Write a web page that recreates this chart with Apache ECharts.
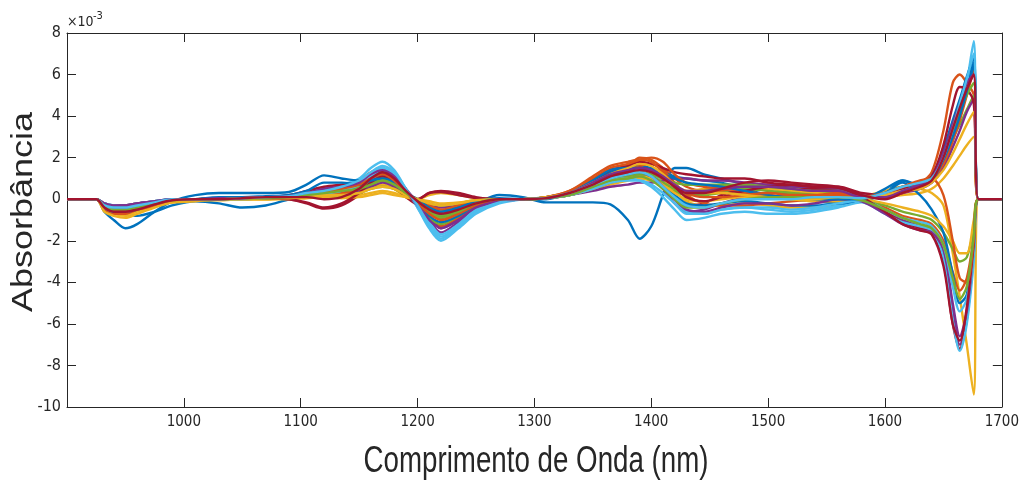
<!DOCTYPE html>
<html lang="pt">
<head>
  <meta charset="utf-8" />
  <title>Absorbância</title>
  <script src="https://cdn.jsdelivr.net/npm/echarts@6.0.0/dist/echarts.min.js"></script>
  <style>
    html, body { margin: 0; padding: 0; background: #fff; }
  </style>
</head>
<body>
  <div id="main" style="width: 1022px;height:482px;"></div>
  <script>
    // comprimentos de onda (nm) compartilhados por todos os espectros
    var wavelengths = [900, 925, 932, 940, 950, 960, 975, 990,
      1010, 1030, 1050, 1070, 1090,
      1105, 1120, 1135, 1150, 1160, 1170, 1180, 1190, 1200, 1210, 1220, 1235, 1250, 1270, 1290,
      1310, 1330, 1350, 1365, 1380, 1390, 1400, 1410, 1420, 1430, 1445, 1460, 1480, 1500, 1520, 1540, 1560, 1580,
      1600, 1615, 1630, 1640, 1650, 1658, 1664, 1670, 1676, 1680, 1700];

    // absorbância (x 10^-3)
    var spec01 = [0, 0, -0.3, -0.5, -0.7, -0.8, -0.6, -0.3,
      -0.1, -0.2, -0.4, -0.3, 0,
      0.2, 0.4, 0.5, 0.7, 0.9, 1.0, 0.7, 0.2, -0.2, -0.6, -0.8, -0.5, -0.2, 0.2, 0.1,
      -0.15, -0.15, -0.15, -0.25, -1.0, -1.9, -1.3, 0.2, 1.5, 1.5, 1.2, 1.0, 0.7, 0.4, 0.2, 0, -0.1, -0.1,
      0.3, 0.9, 0.6, 1.0, 2.0, 3.2, 4.2, 5.5, 6.6, 0, 0];
    var spec02 = [0, 0, -0.2, -0.4, -0.5, -0.4, -0.2, -0.1,
      0, 0.05, 0.05, 0.1, 0.1,
      0.2, 0.4, 0.6, 0.9, 1.3, 1.5, 1.1, 0.4, -0.2, -0.9, -1.3, -0.9, -0.4, -0.1, 0,
      0.05, 0.3, 0.9, 1.3, 1.6, 2.0, 1.9, 1.5, 1.0, 0.6, 0.4, 0.4, 0.3, 0.2, 0.1, 0.2, 0.4, 0.1,
      0.3, 0.5, 0.8, 1.3, 3.3, 5.6, 6.0, 5.6, 5.0, 0, 0];
    var spec03 = [0, 0, -0.4, -0.6, -0.7, -0.5, -0.3, -0.15,
      -0.1, 0, 0, 0, 0.05,
      0.1, 0.2, 0.3, 0.4, 0.6, 0.7, 0.5, 0.1, -0.2, -0.5, -0.7, -0.5, -0.2, -0.05, 0,
      0.05, 0.3, 0.6, 0.9, 1.2, 1.4, 1.3, 0.9, 0.4, -0.1, -0.3, -0.3, -0.2, -0.3, -0.4, -0.4, -0.2, 0.1,
      0.4, 0.6, 0.5, 0.3, -0.3, -2.6, -4.7, -7.0, -9.4, 0, 0];
    var spec04 = [0, 0, -0.3, -0.4, -0.4, -0.3, -0.2, -0.05,
      0, 0, 0.05, 0.1, 0.1,
      0.1, 0.2, 0.3, 0.5, 0.8, 1.0, 0.9, 0.4, -0.1, -0.8, -1.4, -1.0, -0.5, -0.1, 0,
      0.05, 0.2, 0.7, 1.0, 1.1, 1.2, 1.0, 0.5, -0.2, -0.6, -0.5, -0.2, 0.1, 0.3, 0.4, 0.5, 0.5, 0,
      -0.6, -1.0, -1.3, -1.5, -2.6, -5.5, -7.0, -5.6, -2.2, 0, 0];
    var spec05 = [0, 0, -0.2, -0.3, -0.3, -0.2, -0.1, 0,
      0, 0.05, 0.05, 0.1, 0.15,
      0.3, 0.5, 0.6, 0.7, 1.0, 1.2, 0.9, 0.3, -0.3, -0.9, -1.2, -0.8, -0.3, -0.05, 0,
      0.1, 0.3, 0.6, 0.9, 1.1, 1.2, 1.1, 0.8, 0.4, 0.2, 0.2, 0.3, 0.4, 0.5, 0.4, 0.3, 0.3, 0.1,
      0.2, 0.4, 0.6, 0.9, 1.8, 2.9, 3.6, 4.3, 5.0, 0, 0];
    var spec06 = [0, 0, -0.2, -0.3, -0.3, -0.2, -0.1, 0,
      0, 0, 0.05, 0.1, 0.2,
      0.3, 0.5, 0.7, 1.0, 1.5, 1.8, 1.4, 0.5, -0.4, -1.4, -2.0, -1.4, -0.7, -0.2, 0,
      0.05, 0.3, 0.8, 1.2, 1.4, 1.5, 1.3, 0.7, 0, -0.6, -0.7, -0.5, -0.4, -0.5, -0.6, -0.5, -0.3, 0,
      0.2, 0.4, 0.6, 0.8, 1.6, 2.8, 4.0, 5.6, 7.6, 0, 0];
    var spec07 = [0, 0, -0.3, -0.5, -0.5, -0.3, -0.15, -0.05,
      0, 0, 0.05, 0.05, 0,
      -0.2, -0.45, -0.3, 0.2, 0.7, 0.9, 0.6, 0.1, -0.3, -0.7, -0.9, -0.6, -0.2, 0, 0,
      0.05, 0.2, 0.5, 0.8, 1.0, 1.1, 1.0, 0.6, 0.1, -0.3, -0.2, 0.2, 0.5, 0.7, 0.6, 0.5, 0.5, 0.1,
      -0.6, -1.1, -1.4, -1.6, -3.0, -6.0, -7.2, -5.8, -2.6, 0, 0];
    var spec08 = [0, 0, -0.6, -1.0, -1.4, -1.2, -0.6, -0.1,
      0.2, 0.3, 0.3, 0.3, 0.35,
      0.7, 1.15, 1.0, 0.9, 1.1, 1.2, 0.9, 0.3, -0.1, -0.5, -0.7, -0.5, -0.2, 0, 0,
      0, 0.3, 0.8, 1.3, 1.6, 1.6, 1.5, 1.3, 1.1, 1.0, 0.9, 0.8, 0.5, 0.2, 0, -0.1, -0.2, -0.1,
      0.3, 0.6, 0.8, 1.1, 2.4, 3.8, 4.8, 5.9, 6.8, 0, 0];
    var spec09 = [0, 0, -0.4, -0.6, -0.6, -0.4, -0.2, -0.1,
      0, 0, 0, 0.05, 0.1,
      0.2, 0.3, 0.4, 0.6, 0.8, 0.9, 0.7, 0.2, -0.1, -0.4, -0.6, -0.4, -0.15, 0, 0,
      0.1, 0.3, 0.7, 1.1, 1.4, 1.6, 1.7, 1.4, 0.8, 0.2, -0.2, -0.3, -0.3, -0.2, -0.1, 0, 0.1, 0,
      -0.4, -0.8, -1.0, -1.2, -2.0, -3.5, -4.4, -3.8, -1.8, 0, 0];
    var spec10 = [0, 0, -0.5, -0.7, -0.8, -0.6, -0.35, -0.15,
      -0.05, -0.05, 0, 0, 0,
      0.05, 0.1, 0.1, 0.2, 0.3, 0.4, 0.3, 0.1, 0, 0.2, 0.3, 0.2, 0.05, 0, 0,
      0.05, 0.2, 0.5, 0.7, 0.9, 1.0, 0.9, 0.7, 0.5, 0.4, 0.5, 0.6, 0.6, 0.5, 0.4, 0.3, 0.2, 0.1,
      0.1, 0.2, 0.3, 0.5, 1.0, 1.6, 2.1, 2.6, 3.0, 0, 0];
    var spec11 = [0, 0, -0.2, -0.3, -0.3, -0.2, -0.1, 0,
      0, 0.05, 0.05, 0.1, 0.15,
      0.25, 0.35, 0.3, 0.4, 0.6, 0.8, 0.6, 0.2, -0.1, -0.3, -0.4, -0.3, -0.1, 0, 0,
      0.05, 0.2, 0.4, 0.6, 0.7, 0.8, 0.8, 0.9, 1.0, 1.0, 0.9, 0.9, 0.8, 0.7, 0.6, 0.6, 0.5, 0.2,
      0.1, 0.3, 0.5, 0.8, 1.5, 2.5, 3.3, 4.2, 4.8, 0, 0];
    var spec12 = [0, 0, -0.3, -0.4, -0.4, -0.3, -0.15, -0.05,
      0, 0, 0, 0.05, 0.1,
      0.15, 0.2, 0.2, 0.3, 0.5, 0.6, 0.5, 0.2, 0, -0.2, -0.3, -0.2, -0.05, 0, 0,
      0.05, 0.25, 0.6, 0.9, 1.1, 1.2, 1.1, 0.8, 0.5, 0.3, 0.4, 0.5, 0.5, 0.4, 0.3, 0.2, 0.1, -0.05,
      -0.3, -0.6, -0.8, -1.0, -1.6, -2.4, -3.0, -2.8, -1.4, 0, 0];
    var spec13 = [0, 0, -0.2, -0.3, -0.35, -0.25, -0.1, 0,
      0, 0, 0.05, 0.05, 0.1,
      0.2, 0.3, 0.5, 0.8, 1.2, 1.5, 1.2, 0.5, -0.4, -1.3, -1.9, -1.3, -0.6, -0.15, 0,
      0.05, 0.2, 0.6, 0.9, 1.0, 0.9, 0.6, 0.1, -0.5, -1.0, -0.9, -0.7, -0.6, -0.7, -0.7, -0.6, -0.4, -0.15,
      -0.7, -1.1, -1.3, -1.5, -2.8, -5.8, -7.3, -6.0, -3.0, 0, 0];
    var spec14 = [0, 0, -0.3, -0.4, -0.4, -0.3, -0.15, -0.05,
      0, 0.05, 0.05, 0.1, 0.2,
      0.4, 0.6, 0.7, 0.8, 1.1, 1.3, 1.0, 0.4, 0, 0.3, 0.4, 0.3, 0.1, 0, 0,
      0.05, 0.3, 0.9, 1.4, 1.6, 1.8, 1.7, 1.5, 1.3, 1.2, 1.1, 1.0, 1.0, 0.8, 0.7, 0.6, 0.6, 0.3,
      0.2, 0.5, 0.8, 1.1, 2.6, 4.5, 5.4, 5.3, 4.6, 0, 0];
    var spec15 = [0, 0, -0.3, -0.5, -0.5, -0.4, -0.2, -0.05,
      0, 0, 0.05, 0.05, 0.1,
      0.2, 0.3, 0.4, 0.6, 0.9, 1.1, 0.8, 0.3, -0.2, -0.8, -1.1, -0.8, -0.3, 0, 0,
      0.05, 0.2, 0.5, 0.8, 1.0, 1.1, 1.0, 0.7, 0.2, -0.2, -0.3, -0.2, -0.1, -0.2, -0.3, -0.3, -0.2, 0,
      0.3, 0.8, 0.2, -0.5, -1.6, -3.6, -5.0, -4.6, -2.0, 0, 0];
    var spec16 = [0, 0, -0.5, -0.7, -0.7, -0.5, -0.3, -0.1,
      0, 0, 0.05, 0.05, 0.1,
      0.2, 0.3, 0.3, 0.5, 0.8, 1.0, 0.8, 0.3, 0, -0.3, -0.5, -0.3, -0.1, 0, 0,
      0.1, 0.4, 1.0, 1.5, 1.7, 1.9, 2.0, 1.8, 1.2, 0.8, 0.6, 0.5, 0.4, 0.2, 0.1, 0.1, 0.2, 0.1,
      0.1, 0.3, 0.6, 0.9, 1.7, 2.8, 3.8, 5.0, 6.2, 0, 0];
    var spec17 = [0, 0, -0.4, -0.6, -0.6, -0.5, -0.3, -0.1,
      0, 0, 0, 0, 0.05,
      0.1, 0.1, 0.05, 0.1, 0.2, 0.3, 0.2, 0.1, 0, -0.1, -0.2, -0.15, -0.05, 0, 0,
      0.05, 0.2, 0.5, 0.8, 1.0, 1.1, 1.0, 0.7, 0.3, 0, -0.1, 0, 0.1, 0.1, 0, -0.1, -0.1, 0,
      -0.2, -0.4, -0.6, -0.8, -1.3, -2.0, -2.6, -2.6, -1.0, 0, 0];
    var spec18 = [0, 0, -0.2, -0.3, -0.3, -0.2, -0.1, 0,
      0, 0, 0.05, 0.1, 0.1,
      0.2, 0.3, 0.4, 0.7, 1.0, 1.3, 1.1, 0.5, -0.2, -1.0, -1.6, -1.1, -0.5, -0.1, 0,
      0.05, 0.3, 0.7, 1.0, 1.2, 1.3, 1.1, 0.6, 0, -0.5, -0.6, -0.4, -0.2, -0.2, -0.3, -0.2, 0, -0.1,
      -0.7, -1.2, -1.5, -1.6, -2.4, -5.0, -6.6, -5.4, -2.4, 0, 0];
    var spec19 = [0, 0, -0.3, -0.5, -0.5, -0.4, -0.2, -0.05,
      0, 0.05, 0.05, 0.05, 0.1,
      0.2, 0.3, 0.5, 0.6, 0.8, 1.0, 0.8, 0.3, -0.1, -0.6, -0.9, -0.6, -0.2, 0, 0,
      0.1, 0.3, 0.7, 1.0, 1.2, 1.3, 1.2, 1.0, 0.8, 0.7, 0.7, 0.7, 0.7, 0.6, 0.5, 0.4, 0.4, 0.15,
      0.2, 0.4, 0.7, 1.0, 2.0, 3.2, 4.2, 5.0, 5.6, 0, 0];
    var spec20 = [0, 0, -0.3, -0.4, -0.45, -0.35, -0.2, -0.05,
      0, 0, 0, 0.05, 0.1,
      0.15, 0.25, 0.4, 0.7, 1.1, 1.4, 1.1, 0.4, -0.3, -1.1, -1.7, -1.2, -0.5, -0.1, 0,
      0.05, 0.2, 0.5, 0.8, 0.9, 0.9, 0.7, 0.3, -0.2, -0.7, -0.7, -0.5, -0.4, -0.4, -0.5, -0.4, -0.2, -0.05,
      -0.5, -0.9, -1.1, -1.3, -2.2, -4.2, -5.4, -4.8, -2.6, 0, 0];
    var spec21 = [0, 0, -0.3, -0.5, -0.5, -0.4, -0.2, -0.05,
      0, 0, 0.05, 0.05, 0,
      -0.15, -0.4, -0.2, 0.3, 0.8, 1.1, 0.8, 0.3, 0, 0.3, 0.35, 0.2, 0.05, 0, 0,
      0.05, 0.3, 0.8, 1.2, 1.4, 1.5, 1.4, 1.1, 0.6, 0.1, -0.1, 0.1, 0.4, 0.6, 0.7, 0.6, 0.55, 0.1,
      -0.6, -1.2, -1.5, -1.7, -3.2, -6.0, -6.8, -5.2, -2.2, 0, 0];
    var spec22 = [0, 0, -0.4, -0.6, -0.6, -0.5, -0.25, -0.1,
      0, 0.1, 0.1, 0.15, 0.2,
      0.4, 0.8, 0.8, 0.7, 0.9, 1.0, 0.8, 0.3, 0, -0.4, -0.6, -0.4, -0.1, 0.05, 0,
      0.05, 0.3, 0.9, 1.4, 1.5, 1.5, 1.4, 1.2, 1.0, 0.8, 0.7, 0.6, 0.4, 0.2, 0.1, 0, 0, 0,
      0.5, 0.9, 0.7, 0.9, 1.9, 3.0, 4.0, 5.2, 6.4, 0, 0];
    var spec23 = [0, 0, -0.3, -0.5, -0.6, -0.5, -0.3, -0.1,
      0, 0, 0.05, 0.1, 0.1,
      0.2, 0.3, 0.5, 0.7, 1.0, 1.2, 0.9, 0.3, -0.2, -0.7, -1.0, -0.7, -0.3, -0.05, 0,
      0.1, 0.4, 1.1, 1.6, 1.8, 1.9, 1.8, 1.3, 0.7, 0.3, 0.1, 0.1, 0.2, 0.3, 0.2, 0.2, 0.3, 0.1,
      0.3, 0.6, 0.9, 1.0, 0.2, -2.0, -3.8, -4.0, -2.0, 0, 0];
    var spec24 = [0, 0, -0.6, -0.8, -0.9, -0.7, -0.4, -0.15,
      -0.05, 0, 0, 0.05, 0.05,
      0.1, 0.2, 0.2, 0.3, 0.5, 0.6, 0.5, 0.2, 0, -0.2, -0.3, -0.2, -0.05, 0, 0,
      0.1, 0.3, 0.8, 1.2, 1.5, 1.7, 1.6, 1.2, 0.7, 0.4, 0.3, 0.3, 0.2, 0.1, 0, 0, 0.1, 0.05,
      0.2, 0.4, 0.5, 0.8, 1.4, 2.2, 2.9, 3.6, 4.2, 0, 0];
    var spec25 = [0, 0, -0.3, -0.4, -0.4, -0.3, -0.15, 0,
      0, 0.05, 0.05, 0.1, 0.15,
      0.3, 0.5, 0.6, 0.8, 1.2, 1.4, 1.1, 0.4, -0.3, -1.0, -1.4, -1.0, -0.4, -0.1, 0,
      0.05, 0.3, 0.8, 1.2, 1.4, 1.5, 1.4, 1.1, 0.7, 0.4, 0.4, 0.5, 0.6, 0.6, 0.5, 0.4, 0.4, 0.1,
      0.1, 0.4, 0.7, 1.0, 2.2, 3.6, 4.6, 5.6, 6.0, 0, 0];
    var spec26 = [0, 0, -0.3, -0.5, -0.5, -0.4, -0.2, -0.05,
      0, 0, 0.05, 0.05, 0.1,
      0.2, 0.3, 0.4, 0.5, 0.7, 0.9, 0.7, 0.3, -0.1, -0.5, -0.8, -0.6, -0.2, 0, 0,
      0.05, 0.2, 0.6, 0.9, 1.0, 1.1, 0.9, 0.5, 0, -0.4, -0.4, -0.2, 0, 0.1, 0.1, 0.1, 0.1, -0.05,
      -0.5, -0.9, -1.2, -1.4, -2.2, -3.8, -4.8, -4.2, -1.8, 0, 0];
    var spec27 = [0, 0, -0.3, -0.4, -0.4, -0.3, -0.15, 0,
      0, 0, 0.05, 0.1, 0.15,
      0.3, 0.4, 0.6, 0.9, 1.3, 1.6, 1.3, 0.5, -0.3, -1.2, -1.8, -1.3, -0.6, -0.15, 0,
      0.05, 0.3, 0.7, 1.0, 1.2, 1.3, 1.1, 0.6, 0.1, -0.3, -0.4, -0.2, 0, 0, 0, 0.1, 0.1, 0.05,
      0.3, 0.6, 0.8, 1.0, 2.0, 3.4, 4.6, 5.8, 7.0, 0, 0];
    var spec28 = [0, 0, -0.4, -0.6, -0.6, -0.5, -0.25, -0.05,
      0, 0, 0.05, 0.1, 0.1,
      0.1, 0, 0.1, 0.5, 1.0, 1.3, 1.0, 0.4, -0.1, -0.5, -0.7, -0.5, -0.2, 0, 0,
      0.05, 0.3, 0.7, 1.1, 1.3, 1.4, 1.3, 1.0, 0.6, 0.3, 0.3, 0.5, 0.8, 0.9, 0.8, 0.7, 0.6, 0.2,
      0, 0.3, 0.6, 0.9, 2.0, 3.4, 4.4, 5.3, 6.0, 0, 0];

    var xTicks = [1000, 1100, 1200, 1300, 1400, 1500, 1600, 1700];
    var yTicks = [-10, -8, -6, -4, -2, 0, 2, 4, 6, 8];

    // cores padrão do MATLAB
    var colors = ['#0072BD', '#D95319', '#EDB120', '#7E2F8E', '#77AC30', '#4DBEEE', '#A2142F'];

    var spectra = [spec01, spec02, spec03, spec04, spec05, spec06, spec07,
      spec08, spec09, spec10, spec11, spec12, spec13, spec14,
      spec15, spec16, spec17, spec18, spec19, spec20, spec21,
      spec22, spec23, spec24, spec25, spec26, spec27, spec28];

    var axisColor = '#262626';
    var tickFont = '"Liberation Sans Narrow", "DejaVu Sans Condensed", "Liberation Sans", sans-serif';

    var chartDom = document.getElementById('main');
    var myChart = echarts.init(chartDom);

    var series = spectra.map(function (vals, i) {
      return {
        type: 'line',
        name: 'amostra ' + (i + 1),
        data: wavelengths.map(function (w, j) { return [w, vals[j]]; }),
        showSymbol: false,
        smooth: 0.3,
        lineStyle: { width: 2.4, color: colors[i % colors.length] },
        itemStyle: { color: colors[i % colors.length] },
        silent: true
      };
    });

    function boxAxis(extra) {
      var base = {
        type: 'value',
        axisLine: { show: true, onZero: false, lineStyle: { color: axisColor, width: 1 } },
        axisTick: { show: true, inside: true, length: 9, lineStyle: { color: axisColor } },
        splitLine: { show: false }
      };
      return Object.assign(base, extra);
    }

    var option = {
      animation: false,
      grid: { left: 67, right: 18, top: 33, bottom: 75 },
      xAxis: [
        boxAxis({
          position: 'bottom', min: 900, max: 1700, interval: 100,
          axisLabel: {
            color: axisColor, fontFamily: tickFont, fontSize: 15, margin: 8,
            formatter: function (v) { return xTicks.indexOf(v) >= 0 ? String(v) : ''; }
          }
        }),
        boxAxis({
          position: 'top', min: 900, max: 1700, interval: 100,
          axisLabel: { show: false }
        })
      ],
      yAxis: [
        boxAxis({
          position: 'left', min: -10, max: 8, interval: 2,
          axisLabel: {
            color: axisColor, fontFamily: tickFont, fontSize: 16, margin: 6,
            formatter: function (v) { return yTicks.indexOf(v) >= 0 ? String(v) : ''; }
          }
        }),
        boxAxis({
          position: 'right', min: -10, max: 8, interval: 2,
          axisLabel: { show: false }
        })
      ],
      graphic: [
        {
          type: 'text', x: 24, y: 212, rotation: Math.PI / 2, scaleY: 0.8,
          style: {
            text: 'Absorbância', font: '36px "Liberation Sans", Arial, sans-serif',
            fill: axisColor, textAlign: 'center', textVerticalAlign: 'middle'
          }
        },
        {
          type: 'text', x: 536, y: 462, scaleX: 0.77,
          style: {
            text: 'Comprimento de Onda (nm)', font: '36px "Liberation Sans", Arial, sans-serif',
            fill: axisColor, textAlign: 'center', textVerticalAlign: 'middle'
          }
        },
        {
          type: 'text', x: 67, y: 29,
          style: {
            text: '×10', font: '14px ' + tickFont,
            fill: axisColor, textAlign: 'left', textVerticalAlign: 'bottom'
          }
        },
        {
          type: 'text', x: 93, y: 22,
          style: {
            text: '-3', font: '11px ' + tickFont,
            fill: axisColor, textAlign: 'left', textVerticalAlign: 'bottom'
          }
        }
      ],
      series: series
    };

    myChart.setOption(option);
  </script>
</body>
</html>
